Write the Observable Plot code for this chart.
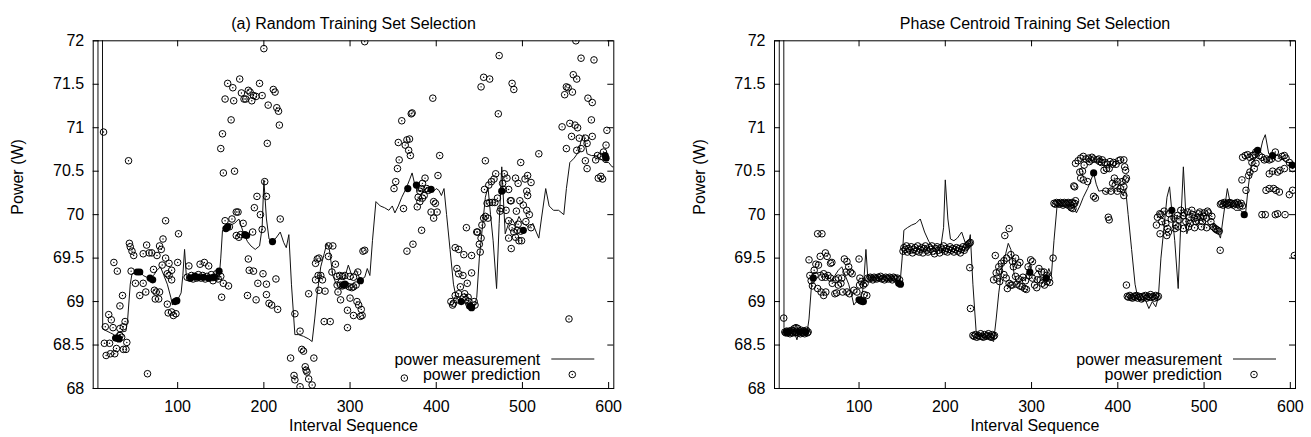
<!DOCTYPE html>
<html><head><meta charset="utf-8">
<script src="https://cdn.jsdelivr.net/npm/d3@7"></script>
<script src="https://cdn.jsdelivr.net/npm/@observablehq/plot@0.6"></script>
<style>
body{margin:0;background:#fff;}
#wrap{display:flex;width:1311px;height:437px;overflow:hidden;}
</style></head><body><div id="wrap"></div>
<script>
const xTicks = [100, 200, 300, 400, 500, 600];
const yTicks = [68, 68.5, 69, 69.5, 70, 70.5, 71, 71.5, 72];
const xDomain = [2, 606];
const yDomain = [68, 72];
const titles = ["(a) Random Training Set Selection", "Phase Centroid Training Set Selection"];
const xLabel = "Interval Sequence";
const yLabel = "Power (W)";
const legendLabels = ["power measurement", "power prediction"];

// measured power (same trace in both panels)
const measurement = [
[3,40],[7,40],[8,100],[11,100],[13,68.7],[14,68.68],[18,68.66],[22,68.64],[26,68.62],[28,68.56],[30,68.64],[35,68.65],[40,68.66],
[42,68.8],[45,69.2],[47,69.32],[52,69.33],[57,69.34],[60,69.3],[64,69.28],[68,69.25],[72,69.3],[76,69.36],[80,69.4],[84,69.3],
[88,69.2],[92,69.05],[94,68.96],[97,69.0],[100,69.02],[104,69.1],[106,69.3],[108,69.6],[110,69.3],[112,69.27],[118,69.28],
[125,69.26],[130,69.29],[135,69.25],[140,69.27],[145,69.24],[148,69.26],[150,69.5],[152,69.82],[156,69.85],[161,69.88],
[166,69.9],[171,69.95],[176,69.8],[181,69.69],[185,69.64],[190,69.6],[195,69.64],[198,69.85],[200,70.4],[203,69.95],
[206,69.72],[210,69.7],[214,69.73],[219,69.8],[223,69.68],[226,69.62],[229,69.77],[232,69.2],[236,68.62],[240,68.62],
[246,68.6],[252,68.57],[256,68.54],[259,68.8],[262,69.1],[266,69.4],[270,69.55],[273,69.67],[276,69.6],[280,69.3],
[284,69.2],[289,69.28],[293,69.25],[298,69.42],[302,69.3],[307,69.36],[312,69.25],[317,69.28],[320,69.38],[323,69.3],
[326,69.7],[330,70.15],[335,70.1],[340,70.08],[345,70.05],[349,70.1],[352,70.02],[356,70.1],[360,70.2],[365,70.3],
[369,70.4],[372,70.48],[375,70.35],[378,70.27],[383,70.28],[388,70.25],[392,70.3],[396,70.26],[400,70.3],[403,70.28],
[406,70.22],[409,70.3],[412,70.0],[416,69.6],[420,69.2],[423,69.05],[428,69.0],[432,69.02],[436,68.92],[440,69.0],
[444,68.94],[447,69.05],[450,69.5],[454,69.9],[457,70.2],[460,70.32],[463,70.0],[466,69.7],[470,69.15],[473,69.9],
[476,70.55],[480,69.78],[484,69.9],[488,69.95],[492,69.88],[496,69.98],[500,69.9],[504,69.88],[508,69.85],[512,69.9],
[516,69.8],[519,69.73],[522,69.95],[527,70.3],[531,70.1],[536,70.05],[542,70.05],[548,70.0],[551,70.3],[555,70.6],
[560,70.65],[565,70.72],[568,70.85],[571,70.92],[575,70.7],[580,70.68],[585,70.68],[590,70.65],[595,70.6],[600,70.6],
[604,70.55],[606,70.55]
];

// (a) random training set: predictions (open circles) and filled points
const randomPred = [
[14,70.95],[43,70.62],[16,68.71],[20,68.85],[23,68.79],[25,68.70],[15,68.52],[21,68.52],[17,68.38],[22,68.40],[27,68.40],
[29,68.46],[37,68.45],[40,68.45],[41,68.53],[33,68.61],[35,68.59],[37,68.71],[39,68.77],[33,68.69],[26,69.45],[30,69.35],
[36,69.07],[33,68.95],[44,69.67],[45,69.63],[47,69.58],[49,69.53],[46,69.35],[51,69.21],[56,69.07],[60,69.21],[60,69.55],
[64,69.65],[67,69.56],[70,69.56],[63,69.11],[72,69.37],[73,69.13],[75,69.11],[79,69.11],[74,69.03],[78,69.03],[76,69.53],
[79,69.64],[81,69.60],[83,69.72],[86,69.93],[82,69.42],[86,69.50],[90,69.44],[88,69.32],[90,69.30],[93,69.25],[93,69.36],
[88,68.97],[89,68.87],[93,68.88],[95,68.84],[98,68.86],[100,69.45],[101,69.78],[65,68.17],
[111,69.28],[113,69.41],[114,69.27],[116,69.30],[118,69.26],[120,69.29],[122,69.27],[124,69.31],[126,69.43],[127,69.27],
[129,69.30],[131,69.45],[132,69.26],[134,69.29],[136,69.41],[137,69.27],[139,69.31],[141,69.24],[143,69.28],[145,69.32],
[147,69.26],[150,69.29],[153,69.21],[159,69.18],[151,69.05],
[150,70.76],[152,70.93],[153,70.48],[162,71.09],[166,70.50],[158,71.51],[164,71.46],[155,71.33],[165,71.31],[172,71.56],
[174,71.40],[177,71.33],[179,71.33],[182,71.43],[184,71.41],[186,71.31],[188,71.37],[191,71.36],[195,71.51],[198,71.37],
[200,71.91],[205,71.26],[204,70.82],[211,71.44],[213,71.41],[215,71.23],[217,71.19],[218,71.03],
[155,69.93],[160,69.86],[163,69.95],[168,70.03],[170,70.03],[168,69.76],[171,69.74],[176,69.90],[173,69.77],[182,69.49],
[183,69.36],[188,69.35],[187,69.80],[189,70.08],[192,70.21],[196,70.00],[198,69.83],[201,70.38],[203,70.21],[181,69.07],
[191,69.02],[199,69.32],[193,69.21],[203,69.20],[203,69.08],[206,68.98],[209,68.96],[214,69.26],[216,68.91],[219,69.95],
[236,68.86],[242,68.66],[244,68.45],[246,68.43],[231,68.35],[258,68.35],[235,68.15],[236,68.10],[242,68.02],[248,68.25],
[250,68.19],[252,68.11],[256,68.04],[249,68.21],
[252,69.09],[260,69.44],[262,69.49],[264,69.50],[260,69.25],[263,69.30],[266,69.30],[268,69.25],[264,69.13],[271,69.12],
[270,68.77],[277,68.77],[275,69.64],[280,69.64],[275,69.52],[283,69.43],[279,69.34],[285,69.29],[288,69.30],[291,69.29],
[294,69.30],[300,69.29],[304,69.28],[309,69.34],[285,69.19],[286,69.11],[289,69.19],[291,69.18],[295,69.19],[299,69.17],
[302,69.16],[304,69.17],[307,69.19],[289,69.02],[297,68.90],[300,69.04],[304,68.84],[308,69.00],[310,68.96],[313,68.91],
[312,68.83],[314,68.84],[297,68.70],[315,69.58],[317,69.59],[317,71.99],
[351,70.30],[353,70.38],[355,70.53],[357,70.63],[356,70.83],[360,71.08],[364,70.80],[366,70.86],[369,70.87],[368,70.74],
[370,70.68],[371,71.16],[372,71.17],[396,71.34],[404,70.68],[402,70.45],[387,70.42],[383,70.30],[384,70.36],[381,70.27],
[379,70.20],[378,70.09],[381,70.15],[384,70.19],[386,70.22],[389,70.30],[391,70.28],[397,70.15],[399,70.13],[394,70.03],
[397,69.96],[401,70.03],[383,69.82],[373,69.66],[366,69.58],[362,70.07],[363,68.12],
[473,71.83],[452,71.47],[455,71.58],[462,71.56],[488,71.51],[490,71.44],[472,71.16],[457,70.62],[519,70.70],[498,70.60],
[562,72.00],[568,71.80],[583,71.78],[559,71.61],[563,71.56],[551,71.47],[549,71.38],[553,71.46],[558,71.41],[576,71.34],
[581,71.29],[546,71.01],[555,71.05],[561,71.03],[564,71.00],[580,71.09],[598,70.97],[557,70.90],[551,70.76],[566,70.88],
[573,70.88],[581,70.90],[568,70.76],[575,70.82],[563,70.74],[573,70.62],[575,70.53],[587,70.68],[591,70.67],[594,70.72],
[597,70.80],[588,70.42],[591,70.44],[593,70.41],[585,70.63],[554,68.80],
[456,70.29],[461,70.34],[464,70.38],[467,70.41],[469,70.47],[479,70.47],[477,70.36],[478,70.29],[484,70.29],[482,70.42],
[492,70.42],[495,70.36],[503,70.41],[506,70.45],[510,70.37],[505,70.27],[506,70.22],[501,70.11],[497,70.16],[493,70.04],
[486,70.16],[487,70.16],[481,70.05],[475,70.07],[474,70.04],[471,70.19],[468,70.14],[465,70.14],[462,70.14],[459,70.13],
[455,69.96],[457,69.98],[460,69.96],[453,69.88],[448,69.80],[447,69.80],[452,69.73],[450,69.66],[451,69.57],[435,69.85],
[441,69.53],[432,69.54],[422,69.62],[426,69.60],[424,69.38],[426,69.32],[431,69.30],[436,69.21],[441,69.33],[428,69.17],
[433,69.09],[426,69.09],[422,69.07],[417,69.00],[420,68.98],[419,68.96],[424,69.02],[434,69.02],[438,69.00],[444,69.00],
[445,68.96],[437,69.05],[432,69.05],
[484,69.93],[488,69.85],[490,69.80],[492,69.74],[495,69.89],[498,69.81],[499,69.70],[505,70.05],[508,70.00],[504,69.92],
[487,69.61],[494,69.82],[510,69.85],[496,69.70],[484,69.73]
];
const randomTrain = [
[28,68.58],[30,68.58],[32,68.57],[53,69.34],[56,69.34],[68,69.27],[71,69.25],[97,69.0],[99,69.01],[115,69.27],[120,69.29],
[124,69.28],[130,69.28],[136,69.27],[142,69.28],[148,69.35],[156,69.84],[158,69.86],[178,69.77],[180,69.76],[210,69.69],
[292,69.19],[294,69.2],[312,69.24],[367,70.30],[377,70.34],[394,70.29],[429,69.00],[439,68.95],[441,68.93],[476,70.27],
[501,69.82],[596,70.68],[597,70.65]
];

// (b) phase centroid training set
const centroidPred = [
[12.7,68.81],[14,68.65],[15,68.64],[16,68.66],[17,68.64],[18,68.65],[19,68.66],[20,68.63],[21,68.65],[22,68.67],[23,68.64],
[24,68.66],[25,68.69],[26,68.64],[27,68.70],[28,68.65],[29,68.69],[30,68.64],[31,68.66],[32,68.63],[33,68.67],[34,68.65],
[35,68.64],[36,68.66],[37,68.63],[38,68.65],[39,68.67],[40,68.64],[41,68.65],
[42,69.48],[43,69.30],[44.5,69.24],[46,69.18],[48,69.36],[49,69.30],[50,69.43],[53,69.42],[55,69.52],[52,69.78],[57,69.78],
[61,69.56],[63,69.52],[67,69.44],[68.5,69.45],[59,69.32],[57,69.28],[61,69.28],[64,69.30],[67,69.27],[52,69.15],[56,69.11],
[59,69.07],[61.5,69.11],[69,69.21],[72,69.09],[74,69.10],[76,69.19],[79,69.21],[73,69.25],[76,69.27],[80,69.27],[83,69.49],
[86,69.46],[88,69.40],[85,69.34],[90,69.34],[92,69.32],[81,69.11],[86,69.11],[89,69.09],[94,69.13],[97.5,69.11],[100,69.49],
[101,69.27],[103,69.23],[100.6,69.19],[105,69.19],[106,69.08],[109,69.07],[107,69.21],
[110,69.27],[111.5,69.26],[113,69.28],[114.5,69.27],[116,69.25],[117.5,69.28],[119,69.27],[120.5,69.26],[122,69.28],
[123.5,69.27],[125,69.29],[126.5,69.26],[128,69.27],[129.5,69.25],[131,69.28],[132.5,69.27],[134,69.26],[135.5,69.28],
[137,69.27],[138.5,69.25],[140,69.28],[141.5,69.27],[143,69.26],[144.5,69.27],[147,69.25],
[151,69.58],[152,69.62],[153.5,69.6],[155,69.64],[156,69.57],[157.5,69.61],[159,69.59],[160.5,69.63],[162,69.56],[163.5,69.6],
[165,69.62],[166.5,69.58],[168,69.64],[169.5,69.57],[171,69.6],[172.5,69.62],[174,69.56],[175.5,69.61],[177,69.64],[178.5,69.59],
[180,69.57],[181.5,69.62],[183,69.6],[184.5,69.64],[186,69.58],[187.5,69.55],[189,69.61],[190.5,69.63],[192,69.59],[193.5,69.56],
[195,69.62],[196.5,69.6],[198,69.64],[199.5,69.58],[201,69.61],[202.5,69.57],[204,69.6],[205.5,69.63],[207,69.59],[208.5,69.61],
[210,69.57],[211.5,69.6],[213,69.62],[214.5,69.58],[216,69.61],[217.5,69.56],[219,69.6],[220.5,69.63],[222,69.59],[223.5,69.62],
[225,69.64],[226.5,69.66],[228,69.67],[229,69.68],[228.4,69.39],[229.2,68.92],
[232,68.61],[233.5,68.6],[235,68.62],[236.5,68.59],[238,68.61],[239.5,68.6],[241,68.63],[242.5,68.6],[244,68.59],[245.5,68.62],
[247,68.6],[248.5,68.61],[250,68.63],[251.5,68.6],[253,68.59],[254.5,68.62],[256,68.6],[257,68.61],
[258,69.53],[269,69.76],[274,69.84],[256,69.25],[259,69.33],[262,69.40],[265,69.44],[268,69.47],[271,69.50],[276,69.54],
[278,69.46],[281.5,69.50],[284,69.42],[286.5,69.45],[260,69.27],[263,69.23],[268,69.31],[270.6,69.27],[274,69.21],[276,69.19],
[281.5,69.29],[285,69.26],[272,69.15],[277.6,69.19],[283,69.20],[286.5,69.18],[289,69.17],[292,69.15],[294,69.14],[296,69.40],
[299,69.48],[301,69.46],[297,69.30],[301,69.27],[303.5,69.19],[306,69.16],[308.6,69.38],[311.7,69.34],[314.4,69.34],[317.5,69.30],
[320,69.27],[306.6,69.25],[310,69.25],[312.4,69.21],[315,69.19],[318,69.23],[321,69.22],[325,69.50],[263,69.35],[290,69.28],
[293,69.24],[279,69.4],
[326,70.13],[327.5,70.12],[329,70.14],[330.5,70.13],[332,70.12],[333.5,70.14],[335,70.13],[336.5,70.11],[338,70.14],[339.5,70.13],
[341,70.12],[342.5,70.14],[344,70.13],[345.5,70.11],[347,70.14],[348.5,70.12],[350,70.13],[351,70.16],[350,70.32],[349,70.33],
[346,70.08],[348,70.07],
[351,70.59],[354,70.62],[357,70.65],[360,70.67],[363,70.64],[367,70.61],[369,70.63],[372,70.64],[376,70.63],[379,70.61],
[382,70.63],[385,70.60],[388,70.58],[391,70.61],[394,70.58],[398,70.58],[401,70.62],[403,70.63],[361,70.57],[356,70.49],
[359,70.50],[357,70.42],[360,70.40],[365,70.38],[384,70.51],[387,70.53],[390,70.53],[396,70.42],[399.5,70.38],[405,70.38],
[409,70.40],[394,70.36],[397,70.34],[392,70.27],[399.5,70.27],[403,70.30],[407,70.22],[386,70.27],[372,70.21],[374,70.19],
[389,69.97],[390,69.94],[407,70.63],[408,70.55],[409,70.51],[410,70.42],[407,70.32],[366,70.65],[370,70.66],[378,70.64],
[381,70.6],[395,70.6],[410,69.19],
[411,69.06],[412.5,69.05],[414,69.07],[415.5,69.05],[417,69.04],[418.5,69.06],[420,69.05],[421.5,69.07],[423,69.04],[424.5,69.06],
[426,69.05],[427.5,69.03],[429,69.06],[430.5,69.05],[432,69.07],[433.5,69.04],[435,69.06],[436.5,69.05],[438,69.08],[439.5,69.05],
[441,69.06],[442.5,69.04],[444,69.07],[445.5,69.05],[447,69.06],
[444.8,69.88],[446,69.97],[448.7,70.01],[451,69.92],[453.7,70.04],[455.6,69.90],[457.6,69.84],[459.5,70.01],[465.3,69.96],
[467.2,69.88],[469.2,69.99],[473,70.05],[475.8,69.99],[478.9,69.92],[480.8,70.03],[482.7,69.97],[485.8,70.05],[488.5,69.96],
[490.5,69.92],[493.6,70.01],[496.3,69.97],[498.2,69.92],[500.2,70.02],[502.9,69.96],[505.2,70.02],[507.9,69.92],[510.6,69.86],
[512.9,69.84],[515.6,69.82],[517.6,69.81],[456.8,69.76],[458.7,69.80],[466.4,69.84],[450,70.0],[462,69.95],[471,69.94],[477,70.02],
[484,69.9],[487,70.0],[492,69.97],[495,70.03],[499,69.98],[504,70.04],[509,69.98],[514,69.83],[449,69.78],[470,69.86],[476,69.84],
[482,69.86],[489,69.85],[497,69.86],[503,69.85],[518.7,69.59],
[519,70.12],[520.5,70.13],[522,70.11],[523.5,70.14],[525,70.12],[526.5,70.13],[528,70.11],[529.5,70.14],[531,70.12],[532.5,70.13],
[534,70.11],[535.5,70.13],[537,70.12],[538.5,70.14],[540,70.12],[541.5,70.1],[543,70.13],[544.5,70.1],
[543.9,70.40],[548.6,70.28],[551.7,70.45],[553.2,70.49],[555.5,70.60],[558.2,70.53],[560.2,70.59],
[544.7,70.66],[547.8,70.68],[550.5,70.69],[553,70.66],[556.3,70.68],[559,70.69],[564,70.68],[567.1,70.66],[569.8,70.63],
[572.5,70.64],[575.6,70.63],[582.6,70.72],[586,70.65],[590.4,70.67],[593.1,70.68],[595,70.65],[598.9,70.60],[602.7,70.53],
[560,70.72],[578,70.64],[575.6,70.47],[579.5,70.50],[585.3,70.49],[588,70.51],[593.1,70.53],[571.8,70.28],[575.6,70.30],
[580.7,70.30],[583.4,70.28],[587.3,70.26],[598.9,70.23],[602.7,70.28],[567.1,70.0],[571,70.0],[582.6,70.0],[585.3,70.01],
[593.9,70.0],[604.7,69.53]
];
const centroidTrain = [
[16,68.65],[31,68.65],[38,68.65],[47,69.27],[100,69.02],[102,69.01],[104,69.0],[105,69.0],[146,69.21],[148,69.2],
[298,69.34],[317,69.27],[372,70.48],[462.6,70.05],[546.6,70.0],[562.1,70.74],[579.5,70.68],[602,70.57]
];

const FONT = "'Liberation Sans', Arial, Helvetica, sans-serif";
const FS = 16;
const H = 437, MT = 40.3, MB = 49;

function legend(dims) {
  const g = d3.create("svg:g").attr("font-size", FS).attr("fill", "black");
  const xr = dims.width - dims.marginRight;
  const yb = dims.height - dims.marginBottom;
  g.append("text").attr("x", xr - 73).attr("y", yb - 29).attr("dy", "0.35em")
    .attr("text-anchor", "end").text(legendLabels[0]);
  g.append("line").attr("x1", xr - 62).attr("x2", xr - 19).attr("y1", yb - 29).attr("y2", yb - 29)
    .attr("stroke", "#111").attr("stroke-width", 1);
  g.append("text").attr("x", xr - 73).attr("y", yb - 13.5).attr("dy", "0.35em")
    .attr("text-anchor", "end").text(legendLabels[1]);
  g.append("circle").attr("cx", xr - 41).attr("cy", yb - 13.5).attr("r", 3.3)
    .attr("fill", "none").attr("stroke", "black");
  g.append("circle").attr("cx", xr - 41).attr("cy", yb - 13.5).attr("r", 0.7).attr("fill", "black");
  return g.node();
}

function panel(title, pred, train, width, mL, mR) {
  const innerH = H - MT - MB, innerW = width - mL - mR;
  return Plot.plot({
    width, height: H, marginLeft: mL, marginRight: mR, marginTop: MT, marginBottom: MB,
    style: {fontFamily: FONT, fontSize: FS + "px", background: "white", color: "black", overflow: "visible"},
    x: {domain: xDomain},
    y: {domain: yDomain},
    marks: [
      Plot.line(measurement, {x: d => d[0], y: d => d[1], stroke: "#111", strokeWidth: 1, clip: true}),
      Plot.dot(pred, {x: d => d[0], y: d => d[1], r: 3.3, stroke: "black", strokeWidth: 1, fill: "none", clip: true}),
      Plot.dot(pred, {x: d => d[0], y: d => d[1], r: 0.7, fill: "black", stroke: null, clip: true}),
      Plot.dot(train, {x: d => d[0], y: d => d[1], r: 3.6, fill: "black", stroke: null, clip: true}),
      Plot.frame({stroke: "black", strokeWidth: 1}),
      Plot.tickX(xTicks, {x: d => d, insetTop: innerH - 6, stroke: "black"}),
      Plot.tickX(xTicks, {x: d => d, insetBottom: innerH - 6, stroke: "black"}),
      Plot.tickY(yTicks, {y: d => d, insetRight: innerW - 6, stroke: "black"}),
      Plot.tickY(yTicks, {y: d => d, insetLeft: innerW - 6, stroke: "black"}),
      Plot.axisX({ticks: xTicks, tickSize: 0, tickPadding: 12, label: null, fontSize: FS}),
      Plot.axisY({ticks: yTicks, tickSize: 0, tickPadding: 9, label: null, fontSize: FS, tickFormat: d => String(d)}),
      Plot.text([title], {text: d => d, frameAnchor: "top", dy: -23, fontSize: FS, fill: "black"}),
      Plot.text([xLabel], {text: d => d, frameAnchor: "bottom", dy: 42, fontSize: FS, fill: "black"}),
      Plot.text([yLabel], {text: d => d, frameAnchor: "left", dx: -75, rotate: -90, fontSize: FS, fill: "black"}),
      (index, scales, values, dims) => legend(dims)
    ]
  });
}

const wrap = document.getElementById("wrap");
wrap.appendChild(panel(titles[0], randomPred, randomTrain, 655, 92.7, 41.7));
wrap.appendChild(panel(titles[1], centroidPred, centroidTrain, 656, 119, 16));
</script></body></html>
